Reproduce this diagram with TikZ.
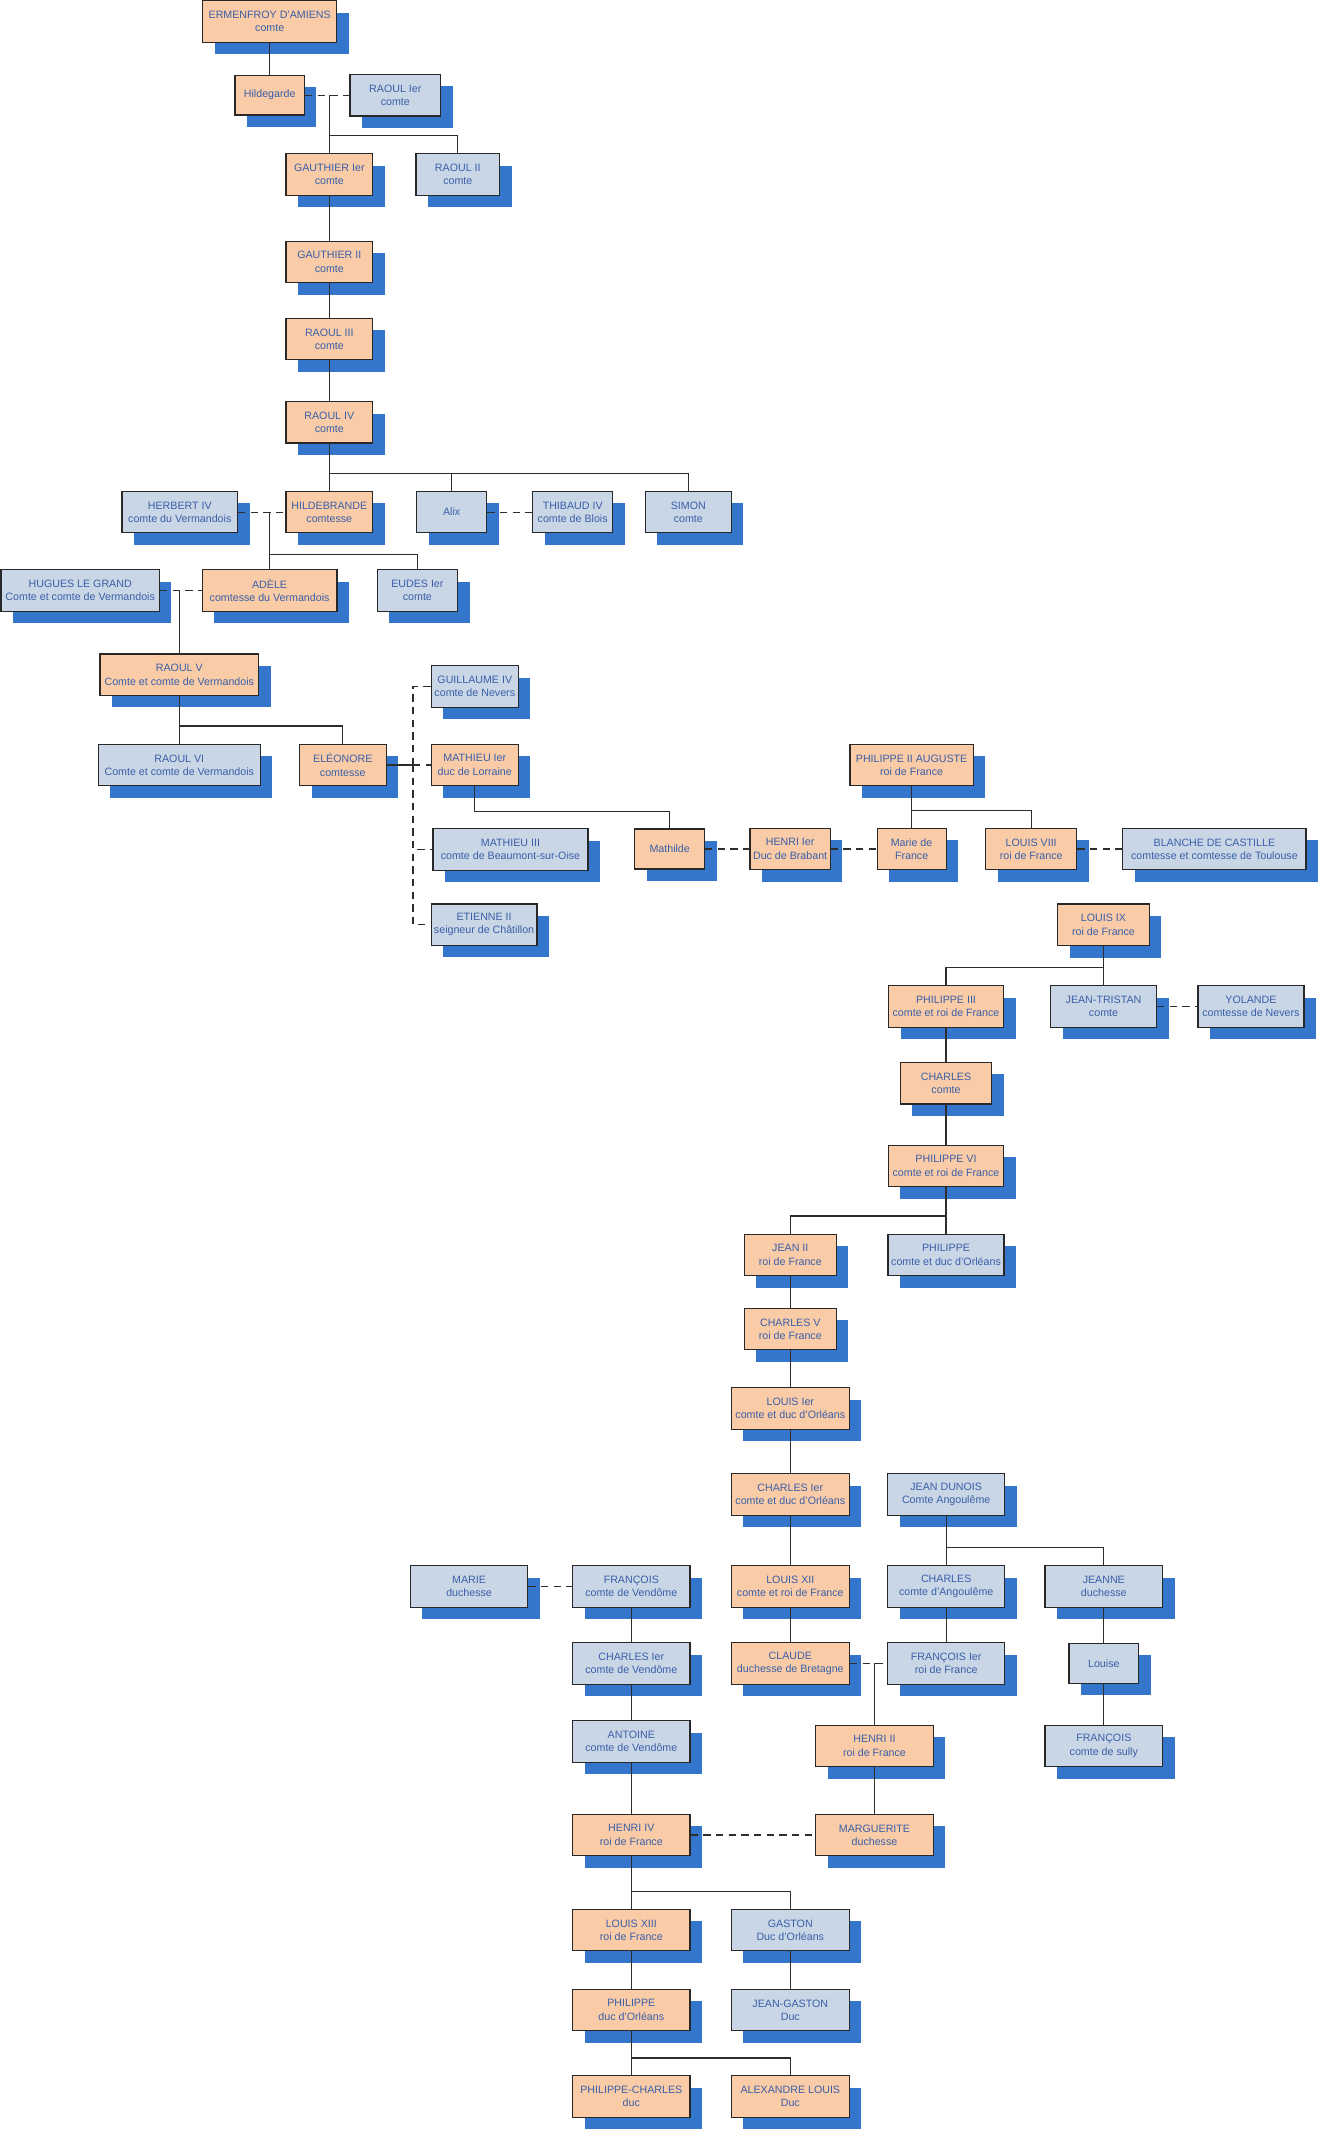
\documentclass[tikz,border=0pt]{standalone}
\usepackage{fontspec}
\setmainfont{Liberation Sans}
\usepackage{tikz}
\usetikzlibrary{shadows}

\begin{document}
\begin{tikzpicture}[x=0.75pt, y=-0.75pt]
        % Couleurs de l'arbre
        \definecolor{peche}{RGB}{249,204,167}
        \definecolor{gris}{RGB}{201,214,230}
        \definecolor{ombre}{RGB}{52,118,204}
        \definecolor{texte}{RGB}{58,94,168}
        \definecolor{bord}{RGB}{40,40,40}
        \definecolor{trait}{RGB}{45,45,45}

        % Unité (un pixel de l'image)
        \def\px{0.75pt}

        \tikzset{
            pers/.style={draw=bord, line width=0.9pt, align=center, text=texte,
                font=\fontsize{8}{10}\selectfont, minimum height=41.5*\px, inner sep=0pt,
                drop shadow={shadow xshift=9pt, shadow yshift=-9pt, fill=ombre, opacity=1}},
            lignee/.style={pers, fill=peche},
            allie/.style={pers, fill=gris},
            larg/.style={minimum width=#1*\px},
            lien/.style={draw=trait, line width=0.9pt},
            mariage/.style={lien, dash pattern=on 5.5pt off 4pt}
        }

        \useasboundingbox (0,0) rectangle (1319,2130);

        % Amiens et Vexin
        \node[lignee, larg=134.3] (ermenfroy) at (269.7,21.4) {ERMENFROY D’AMIENS\\comte};
        \node[lignee, larg=69.4, minimum height=39.7*\px] (hildegarde) at (269.7,95.2) {Hildegarde};
        \node[allie, larg=90.6] (raoulI) at (395.3,95.2) {RAOUL Ier\\comte};
        \node[lignee, larg=86.7] (gauthierI) at (329.3,174.6) {GAUTHIER Ier\\comte};
        \node[allie, larg=83.8] (raoulII) at (457.8,174.6) {RAOUL II\\comte};
        \node[lignee, larg=86.7] (gauthierII) at (329.3,261.9) {GAUTHIER II\\comte};
        \node[lignee, larg=86.7] (raoulIII) at (329.3,339) {RAOUL III\\comte};
        \node[lignee, larg=86.7] (raoulIV) at (329.3,422.3) {RAOUL IV\\comte};

        % Enfants de Raoul IV
        \node[allie, larg=115.5] (herbert) at (179.8,512.1) {HERBERT IV\\comte du Vermandois};
        \node[lignee, larg=86.7] (hildebrande) at (329.3,512.1) {HILDEBRANDE\\comtesse};
        \node[allie, larg=69.8] (alix) at (451.7,512.1) {Alix};
        \node[allie, larg=80] (thibaud) at (572.7,512.1) {THIBAUD IV\\comte de Blois};
        \node[allie, larg=86.3] (simon) at (688.3,512.1) {SIMON\\comte};

        % Vermandois
        \node[allie, larg=158.5] (hugues) at (80.2,590.5) {HUGUES LE GRAND\\Comte et comte de Vermandois};
        \node[lignee, larg=134.8] (adele) at (269.6,590.5) {ADÈLE\\comtesse du Vermandois};
        \node[allie, larg=80.4] (eudes) at (417.4,590.5) {EUDES Ier\\comte};
        \node[lignee, larg=158.5] (raoulV) at (179.3,674.7) {RAOUL V\\Comte et comte de Vermandois};
        \node[allie, larg=162] (raoulVI) at (179.3,765) {RAOUL VI\\Comte et comte de Vermandois};
        \node[lignee, larg=86.6] (eleonore) at (342.8,765) {ELÉONORE\\comtesse};

        % Époux d'Eléonore
        \node[allie, larg=87.1] (guillaume) at (474.8,686.5) {GUILLAUME IV\\comte de Nevers};
        \node[lignee, larg=87.1] (mathieuI) at (474.8,765) {MATHIEU Ier\\duc de Lorraine};
        \node[allie, larg=155] (mathieuIII) at (510.5,849.4) {MATHIEU III\\comte de Beaumont-sur-Oise};
        \node[allie, larg=105.8] (etienne) at (484.1,924.7) {ETIENNE II\\seigneur de Châtillon};

        % Brabant et Capétiens
        \node[lignee, larg=123.3] (philippeII) at (911.6,765) {PHILIPPE II AUGUSTE\\roi de France};
        \node[lignee, larg=69.7, minimum height=40*\px] (mathilde) at (669.7,849) {Mathilde};
        \node[lignee, larg=80.2] (henriI) at (790.1,849) {HENRI Ier\\Duc de Brabant};
        \node[lignee, larg=69] (marieF) at (911.6,849) {Marie de\\France};
        \node[lignee, larg=91.2] (louisVIII) at (1031.2,849) {LOUIS VIII\\roi de France};
        \node[allie, larg=183.3] (blanche) at (1214.4,849) {BLANCHE DE CASTILLE\\comtesse et comtesse de Toulouse};
        \node[lignee, larg=91.7] (louisIX) at (1103.5,924.8) {LOUIS IX\\roi de France};
        \node[lignee, larg=115] (philippeIII) at (946,1006.4) {PHILIPPE III\\comte et roi de France};
        \node[allie, larg=106] (jeanTristan) at (1103.5,1006.4) {JEAN-TRISTAN\\comte};
        \node[allie, larg=106] (yolande) at (1250.9,1006.4) {YOLANDE\\comtesse de Nevers};
        \node[lignee, larg=91.6] (charles) at (946,1083.2) {CHARLES\\comte};
        \node[lignee, larg=115.7] (philippeVI) at (946,1166) {PHILIPPE VI\\comte et roi de France};
        \node[lignee, larg=92] (jeanII) at (790.3,1255) {JEAN II\\roi de France};
        \node[allie, larg=116] (philippeO) at (946,1255) {PHILIPPE\\comte et duc d’Orléans};

        % Orléans et Angoulême
        \node[lignee, larg=92] (charlesV) at (790.3,1329) {CHARLES V\\roi de France};
        \node[lignee, larg=118] (louisI) at (790.3,1408.5) {LOUIS Ier\\comte et duc d’Orléans};
        \node[lignee, larg=118] (charlesIO) at (790.3,1494.4) {CHARLES Ier\\comte et duc d’Orléans};
        \node[allie, larg=117.3] (dunois) at (946.2,1494.4) {JEAN DUNOIS\\Comte Angoulême};
        \node[allie, larg=117.4] (marie) at (469.1,1586.4) {MARIE\\duchesse};
        \node[allie, larg=117.4] (francoisV) at (631.3,1586.4) {FRANÇOIS\\comte de Vendôme};
        \node[lignee, larg=118] (louisXII) at (790.3,1586.4) {LOUIS XII\\comte et roi de France};
        \node[allie, larg=117.3] (charlesA) at (946.2,1586.4) {CHARLES\\comte d’Angoulême};
        \node[allie, larg=117.5] (jeanne) at (1103.8,1586.4) {JEANNE\\duchesse};
        \node[allie, larg=117.4] (charlesIV) at (631.3,1663.4) {CHARLES Ier\\comte de Vendôme};
        \node[lignee, larg=118] (claude) at (790.3,1663.4) {CLAUDE\\duchesse de Bretagne};
        \node[allie, larg=117.3] (francoisI) at (946.2,1663.4) {FRANÇOIS Ier\\roi de France};
        \node[allie, larg=69.6, minimum height=40*\px] (louise) at (1103.8,1663.4) {Louise};

        % Bourbons
        \node[allie, larg=117.4] (antoine) at (631.3,1741.4) {ANTOINE\\comte de Vendôme};
        \node[lignee, larg=117.4] (henriII) at (874.5,1746) {HENRI II\\roi de France};
        \node[allie, larg=117.5] (francoisS) at (1103.8,1746) {FRANÇOIS\\comte de sully};
        \node[lignee, larg=117.4] (henriIV) at (631.3,1835) {HENRI IV\\roi de France};
        \node[lignee, larg=117.4] (marguerite) at (874.5,1835) {MARGUERITE\\duchesse};
        \node[lignee, larg=117.4] (louisXIII) at (631.3,1930) {LOUIS XIII\\roi de France};
        \node[allie, larg=118] (gaston) at (790.3,1930) {GASTON\\Duc d’Orléans};
        \node[lignee, larg=117.4] (philippeOr) at (631.3,2010) {PHILIPPE\\duc d’Orléans};
        \node[allie, larg=118] (jeanGaston) at (790.3,2010) {JEAN-GASTON\\Duc};
        \node[lignee, larg=117.4] (philippeCh) at (631.3,2096.4) {PHILIPPE-CHARLES\\duc};
        \node[lignee, larg=118] (alexandre) at (790.3,2096.4) {ALEXANDRE LOUIS\\Duc};

        % Points de branchement
        \coordinate (mHR) at (329.3,95.2);
        \coordinate (bHR) at (329.3,135.7);
        \coordinate (bRIV) at (329.3,473.4);
        \coordinate (mHH) at (269.6,512.1);
        \coordinate (bHH) at (269.6,554.3);
        \coordinate (mHA) at (179.3,590.5);
        \coordinate (bRV) at (179.3,726);
        \coordinate (mE) at (413,765);
        \coordinate (bMI) at (474.8,811.7);
        \coordinate (bPA) at (911.6,810.3);
        \coordinate (bLIX) at (1103.5,967.7);
        \coordinate (bPVI) at (946,1216);
        \coordinate (bJD) at (946.2,1547.3);
        \coordinate (mCF) at (874.5,1663.4);
        \coordinate (bHIV) at (631.3,1891.3);
        \coordinate (bPO) at (631.3,2058);

        % Filiations
        \draw[lien] (ermenfroy) -- (hildegarde);
        \draw[lien] (mHR) -- (gauthierI);
        \draw[lien] (bHR) -| (raoulII);
        \draw[lien] (gauthierI) -- (gauthierII);
        \draw[lien] (gauthierII) -- (raoulIII);
        \draw[lien] (raoulIII) -- (raoulIV);
        \draw[lien] (raoulIV) -- (hildebrande);
        \draw[lien] (bRIV) -| (alix);
        \draw[lien] (bRIV) -| (simon);
        \draw[lien] (mHH) -- (adele);
        \draw[lien] (bHH) -| (eudes);
        \draw[lien] (mHA) -- (raoulV);
        \draw[lien] (raoulV) -- (raoulVI);
        \draw[lien] (bRV) -| (eleonore);
        \draw[lien] (eleonore) -- (mE);
        \draw[lien] (mathieuI) -- (bMI) -| (mathilde);
        \draw[lien] (philippeII) -- (marieF);
        \draw[lien] (bPA) -| (louisVIII);
        \draw[lien] (louisIX) -- (jeanTristan);
        \draw[lien] (bLIX) -| (philippeIII);
        \draw[lien] (philippeIII) -- (charles);
        \draw[lien] (charles) -- (philippeVI);
        \draw[lien] (philippeVI) -- (philippeO);
        \draw[lien] (bPVI) -| (jeanII);
        \draw[lien] (jeanII) -- (charlesV);
        \draw[lien] (charlesV) -- (louisI);
        \draw[lien] (louisI) -- (charlesIO);
        \draw[lien] (charlesIO) -- (louisXII);
        \draw[lien] (louisXII) -- (claude);
        \draw[lien] (dunois) -- (charlesA);
        \draw[lien] (bJD) -| (jeanne);
        \draw[lien] (charlesA) -- (francoisI);
        \draw[lien] (jeanne) -- (louise);
        \draw[lien] (louise) -- (francoisS);
        \draw[lien] (francoisV) -- (charlesIV);
        \draw[lien] (charlesIV) -- (antoine);
        \draw[lien] (antoine) -- (henriIV);
        \draw[lien] (mCF) -- (henriII);
        \draw[lien] (henriII) -- (marguerite);
        \draw[lien] (henriIV) -- (louisXIII);
        \draw[lien] (bHIV) -| (gaston);
        \draw[lien] (louisXIII) -- (philippeOr);
        \draw[lien] (gaston) -- (jeanGaston);
        \draw[lien] (philippeOr) -- (philippeCh);
        \draw[lien] (bPO) -| (alexandre);

        % Mariages (tirets)
        \draw[mariage] (hildegarde) -- (raoulI);
        \draw[mariage] (herbert) -- (hildebrande);
        \draw[mariage] (alix) -- (thibaud);
        \draw[mariage] (hugues) -- (adele);
        \draw[mariage] (mE) -- (mathieuI);
        \draw[mariage] (mE) |- (guillaume);
        \draw[mariage] (mE) |- (mathieuIII);
        \draw[mariage] (mE) |- (etienne);
        \draw[mariage] (mathilde) -- (henriI);
        \draw[mariage] (henriI) -- (marieF);
        \draw[mariage] (louisVIII) -- (blanche);
        \draw[mariage] (jeanTristan) -- (yolande);
        \draw[mariage] (marie) -- (francoisV);
        \draw[mariage] (claude) -- (francoisI);
        \draw[mariage] (henriIV) -- (marguerite);
    \end{tikzpicture}
\end{document}
